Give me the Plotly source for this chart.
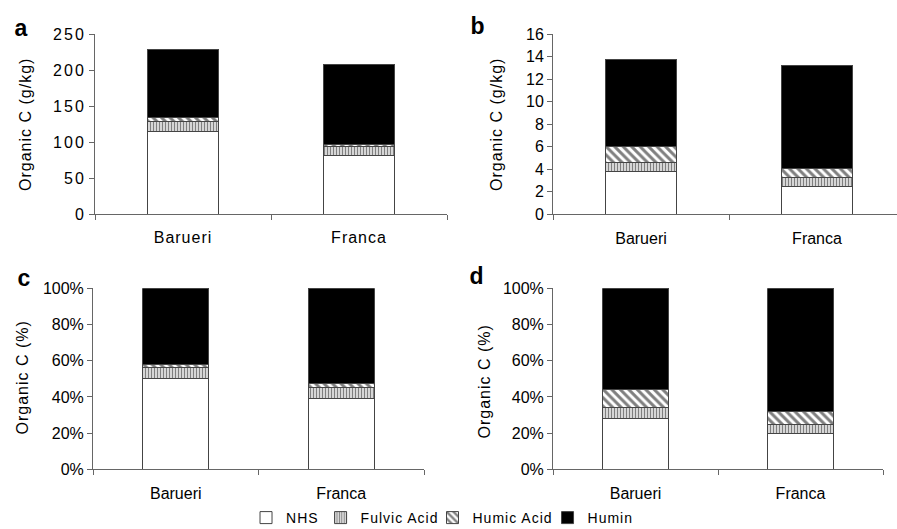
import plotly.graph_objects as go

W, H = 897, 529

sites = ["Barueri", "Franca"]
fractions = ["NHS", "Fulvic Acid", "Humic Acid", "Humin"]

# panel a: organic C (g/kg)
nhs_a = [114, 81]
fulvic_a = [15, 13]
humic_a = [5, 3]
humin_a = [95, 111]

# panel b: organic C (g/kg)
nhs_b = [3.8, 2.5]
fulvic_b = [0.8, 0.75]
humic_b = [1.4, 0.8]
humin_b = [7.7, 9.15]

# panel c: organic C (%)
nhs_c = [50, 39]
fulvic_c = [6.3, 6]
humic_c = [1.8, 2.5]
humin_c = [41.9, 52.5]

# panel d: organic C (%)
nhs_d = [28, 20]
fulvic_d = [6, 5]
humic_d = [10, 7]
humin_d = [56, 68]

yticks_a = [0, 50, 100, 150, 200, 250]
yticks_b = [0, 2, 4, 6, 8, 10, 12, 14, 16]
yticks_pct = [0, 20, 40, 60, 80, 100]
yticks_pct_text = ["0%", "20%", "40%", "60%", "80%", "100%"]

FONT = "Liberation Sans, Arial, sans-serif"
AX = "#666666"
OUTLINE = "#444444"

styles = {
    "NHS": dict(color="white", pattern=None),
    "Fulvic Acid": dict(color="white", pattern=dict(shape="|", fgcolor="black", bgcolor="white", size=3, solidity=0.55)),
    "Humic Acid": dict(color="white", pattern=dict(shape="\\", fgcolor="black", bgcolor="white", size=6, solidity=0.5)),
    "Humin": dict(color="black", pattern=None),
}

panels = [
    ("x", "y", [nhs_a, fulvic_a, humic_a, humin_a]),
    ("x2", "y2", [nhs_b, fulvic_b, humic_b, humin_b]),
    ("x3", "y3", [nhs_c, fulvic_c, humic_c, humin_c]),
    ("x4", "y4", [nhs_d, fulvic_d, humic_d, humin_d]),
]

fig = go.Figure()
for pi, (xa, ya, series) in enumerate(panels):
    for name, vals in zip(fractions, series):
        st = styles[name]
        marker = dict(color=st["color"], line=dict(color=OUTLINE, width=1))
        if st["pattern"]:
            marker["pattern"] = st["pattern"]
        fig.add_trace(go.Bar(
            x=sites, y=vals, name=name, xaxis=xa, yaxis=ya,
            width=0.4, marker=marker, legendgroup=name,
            showlegend=(pi == 0),
        ))

def px_x(p):
    return p / W

def px_y(p):
    return 1 - p / H

def xaxis(d0, d1, rng, anchor):
    return dict(domain=[px_x(d0), min(1.0, px_x(d1))], anchor=anchor, type="category",
                range=rng, showline=True, linecolor=AX, linewidth=1,
                ticks="outside", tickson="boundaries", ticklen=5, tickcolor=AX,
                showgrid=False, zeroline=False, ticklabelstandoff=9, automargin=False,
                tickfont=dict(family=FONT, size=16, color="black"), fixedrange=True)

def yaxis(top, bottom, rng, tickvals, anchor, ticktext=None):
    d = dict(domain=[px_y(bottom), px_y(top)], anchor=anchor, range=rng,
             tickmode="array", tickvals=tickvals, showline=True, linecolor=AX,
             linewidth=1, ticks="outside", ticklen=5, tickcolor=AX,
             showgrid=False, zeroline=False, automargin=False,
             tickfont=dict(family=FONT, size=16, color="black"), fixedrange=True)
    if ticktext:
        d["ticktext"] = ticktext
    return d

fig.update_layout(
    width=W, height=H,
    margin=dict(l=0, r=0, t=0, b=0, pad=0, autoexpand=False),
    paper_bgcolor="white", plot_bgcolor="white",
    barmode="stack",
    xaxis=xaxis(95, 447, [-0.5, 1.5], "y"),
    yaxis=yaxis(34, 214, [0, 250], yticks_a, "x"),
    xaxis2=xaxis(553, 897, [-0.5, -0.5 + 344 / 176], "y2"),
    yaxis2=yaxis(34, 214.3, [0, 16], yticks_b, "x2"),
    xaxis3=xaxis(93, 424, [-0.5, 1.5], "y3"),
    yaxis3=yaxis(288.3, 469.3, [0, 100], yticks_pct, "x3", yticks_pct_text),
    xaxis4=xaxis(553, 883, [-0.5, 1.5], "y4"),
    yaxis4=yaxis(288.3, 469.3, [0, 100], yticks_pct, "x4", yticks_pct_text),
    legend=dict(orientation="h", x=0.49, xanchor="center", y=px_y(518), yanchor="middle",
                font=dict(family=FONT, size=14, color="black"), itemwidth=30,
                traceorder="normal", bgcolor="rgba(0,0,0,0)"),
    showlegend=True,
)

annotations = []
for label, x, y in [("a", 21, 28), ("b", 478, 26), ("c", 24, 278), ("d", 477, 276)]:
    annotations.append(dict(text=label, x=px_x(x), y=px_y(y), xref="paper", yref="paper",
                            showarrow=False, xanchor="center", yanchor="middle",
                            font=dict(family=FONT, size=23, color="black", weight="bold")))
for text, x, y in [("Organic C (g/kg)", 25, 125), ("Organic C (g/kg)", 496, 125),
                   ("Organic C (%)", 22, 378), ("Organic C (%)", 484, 382)]:
    annotations.append(dict(text=text, x=px_x(x), y=px_y(y), xref="paper", yref="paper",
                            showarrow=False, xanchor="center", yanchor="middle", textangle=-90,
                            font=dict(family=FONT, size=16, color="black")))
fig.update_layout(annotations=annotations)

post = """
document.body.style.margin = '0';
var st = document.createElement('style');
st.textContent = '.ytick text{letter-spacing:2px;} .xtick text{letter-spacing:1px;} .legendtext{letter-spacing:1px;} .annotation-text{letter-spacing:1px;}';
document.head.appendChild(st);
"""

fig.write_html("out.html", config={"displayModeBar": False}, post_script=post)
